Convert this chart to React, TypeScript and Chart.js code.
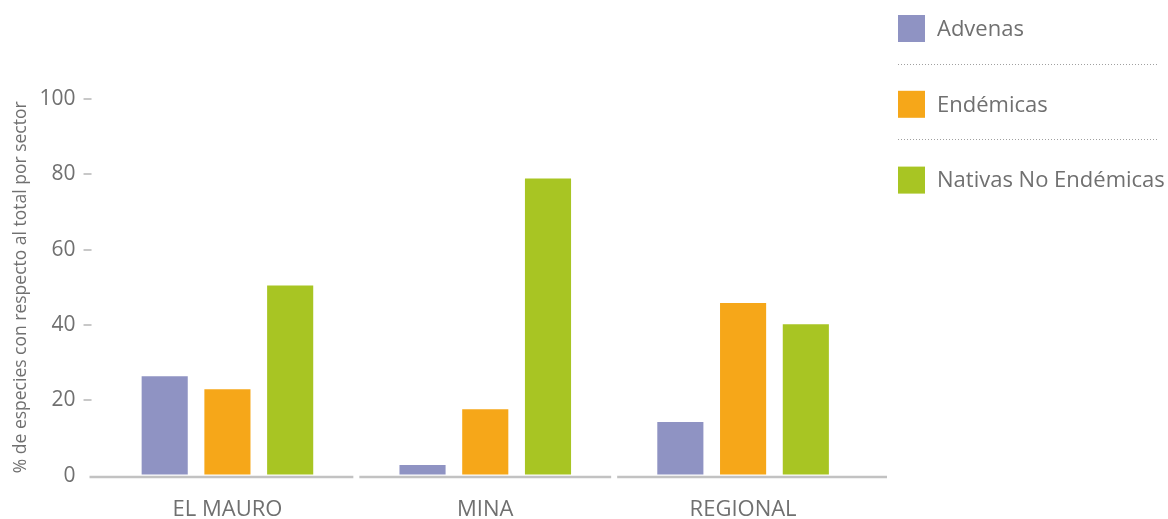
import React, { useEffect, useRef } from "react";
import { Chart, registerables } from "chart.js";

Chart.register(...registerables);

const categories = ["EL MAURO", "MINA", "REGIONAL"];
const seriesNames = ["Advenas", "Endémicas", "Nativas No Endémicas"];
const advenas = [26.4, 2.8, 14.2];
const endemicas = [22.9, 17.6, 45.8];
const nativas = [50.5, 78.9, 40.2];
const seriesColors = ["#8f93c3", "#f6a719", "#a8c523"];
const yTicks = [0, 20, 40, 60, 80, 100];
const yTitle = "% de especies con respecto al total por sector";

const FONT = "'Open Sans', 'DejaVu Sans', sans-serif";
const TEXT = "#707070";

const baselinePlugin = {
  id: "baselineSegments",
  afterDatasetsDraw(chart: any) {
    const { ctx } = chart;
    const x = chart.scales.x;
    const y = chart.scales.y;
    const y0 = y.getPixelForValue(0) + 1.5;
    const n = categories.length;
    const cw = (x.right - x.left) / n;
    ctx.save();
    ctx.strokeStyle = "#c2c2c2";
    ctx.lineWidth = 2.5;
    for (let i = 0; i < n; i++) {
      const c = x.getPixelForValue(i);
      const start = i === 0 ? x.left - 9 : c - cw / 2 + 3;
      const end = i === n - 1 ? x.right + 15 : c + cw / 2 - 3;
      ctx.beginPath();
      ctx.moveTo(start, y0);
      ctx.lineTo(end, y0);
      ctx.stroke();
    }
    ctx.restore();
  },
};

const legendPlugin = {
  id: "customLegend",
  afterDraw(chart: any) {
    const { ctx } = chart;
    ctx.save();
    const boxX = 898;
    const textX = 937;
    const step = 75.8;
    chart.data.datasets.forEach((ds: any, i: number) => {
      const yc = 28.5 + i * step;
      ctx.fillStyle = ds.backgroundColor;
      ctx.fillRect(boxX, yc - 13.5, 27, 27);
      ctx.fillStyle = TEXT;
      ctx.font = `22px ${FONT}`;
      ctx.textBaseline = "middle";
      ctx.textAlign = "left";
      ctx.fillText(ds.label, textX, yc + 1);
      if (i < chart.data.datasets.length - 1) {
        const ly = Math.round(yc + 35) + 0.5;
        ctx.strokeStyle = "#a0a0a0";
        ctx.lineWidth = 1;
        ctx.setLineDash([1, 2]);
        ctx.beginPath();
        ctx.moveTo(boxX, ly);
        ctx.lineTo(1159, ly);
        ctx.stroke();
        ctx.setLineDash([]);
      }
    });
    ctx.restore();
  },
};

export default function App() {
  const ref = useRef<HTMLCanvasElement>(null);
  useEffect(() => {
    if (!ref.current) return;
    const seriesValues = [advenas, endemicas, nativas];
    const chart = new Chart(ref.current, {
      type: "bar",
      data: {
        labels: categories,
        datasets: seriesNames.map((name, i) => ({
          label: name,
          data: seriesValues[i],
          backgroundColor: seriesColors[i],
          borderWidth: 0,
          categoryPercentage: 0.73,
          barPercentage: 0.735,
        })),
      },
      options: {
        animation: false,
        responsive: true,
        maintainAspectRatio: false,
        layout: { padding: { top: 99, right: 296, bottom: -25, left: 10.5 } },
        plugins: {
          legend: { display: false },
          tooltip: { enabled: false },
        },
        scales: {
          x: {
            grid: { display: false, drawTicks: false },
            border: { display: false },
            ticks: {
              color: TEXT,
              font: { family: FONT, size: 22 },
              padding: 21,
            },
          },
          y: {
            min: 0,
            max: 100,
            afterBuildTicks(scale: any) {
              scale.ticks = yTicks.map((v) => ({ value: v }));
            },
            grid: {
              drawOnChartArea: false,
              drawTicks: true,
              tickLength: 15,
              tickBorderDash: [8, 60],
              color: (c: any) => (c.tick && c.tick.value === 0 ? "rgba(0,0,0,0)" : "#c8c8c8"),
              lineWidth: 2,
            },
            border: { display: false },
            ticks: {
              color: TEXT,
              font: { family: FONT, size: 21 },
              padding: 8,
            },
            title: {
              display: true,
              text: yTitle,
              color: TEXT,
              font: { family: FONT, size: 17.5 },
              padding: { top: 0, bottom: 0 },
            },
          },
        },
      },
      plugins: [baselinePlugin, legendPlugin],
    });
    return () => chart.destroy();
  }, []);
  return (
    <div style={{ position: "fixed", left: 0, top: 0, width: 1168, height: 519 }}>
      <canvas ref={ref} />
    </div>
  );
}
